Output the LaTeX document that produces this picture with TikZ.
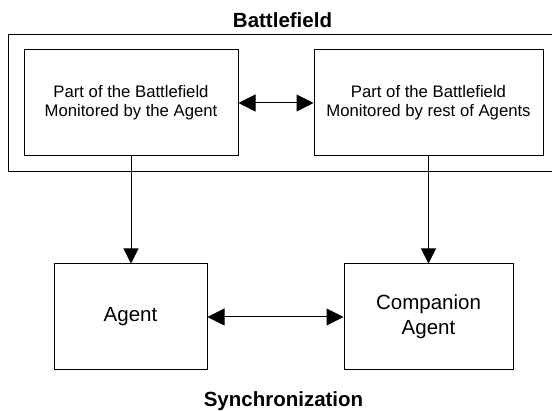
\documentclass[tikz,border=0pt]{standalone}
\usepackage{fontspec}
\setmainfont{Liberation Sans}
\usetikzlibrary{arrows.meta}
\begin{document}
\begin{tikzpicture}[x=1pt,y=-1pt,
  box/.style={draw=black, line width=1pt, inner sep=0pt, align=center},
  smalltext/.style={font=\fontsize{16.7}{19}\selectfont},
  bigtext/.style={font=\fontsize{20.5}{25}\selectfont},
  titletext/.style={font=\fontsize{20.5}{25}\selectfont\bfseries},
  conn/.style={line width=1pt, -{Triangle[length=15pt,width=15pt]}},
  biconn/.style={line width=1pt, {Triangle[length=17pt,width=17pt]}-{Triangle[length=17pt,width=17pt]}}]
\useasboundingbox[fill=white] (0,0) rectangle (552,411);
\node[box, minimum width=545pt, minimum height=137pt] (field) at (280.5,103.5) {};
\node[titletext] (ftitle) at (282.5,20) {Battlefield};
\node[box, smalltext, minimum width=214pt, minimum height=106pt] (own) at (131,103)
  {Part of the Battlefield\\Monitored by the Agent};
\node[box, smalltext, minimum width=229pt, minimum height=106pt] (rest) at (428.5,103)
  {Part of the Battlefield\\Monitored by rest of Agents};
\node[box, bigtext, minimum width=153pt, minimum height=106pt] (agent) at (130.5,317) {Agent};
\node[box, bigtext, minimum width=169pt, minimum height=106pt] (comp) at (428.5,317)
  {Companion\\Agent};
\node[titletext] (sync) at (283.5,401) {Synchronization};
\draw[biconn] (own.east) -- (rest.west);
\draw[biconn] (agent.east) -- (comp.west);
\draw[conn] (own.south) -- (own.south |- agent.north);
\draw[conn] (rest.south) -- (rest.south |- comp.north);
\end{tikzpicture}
\end{document}
